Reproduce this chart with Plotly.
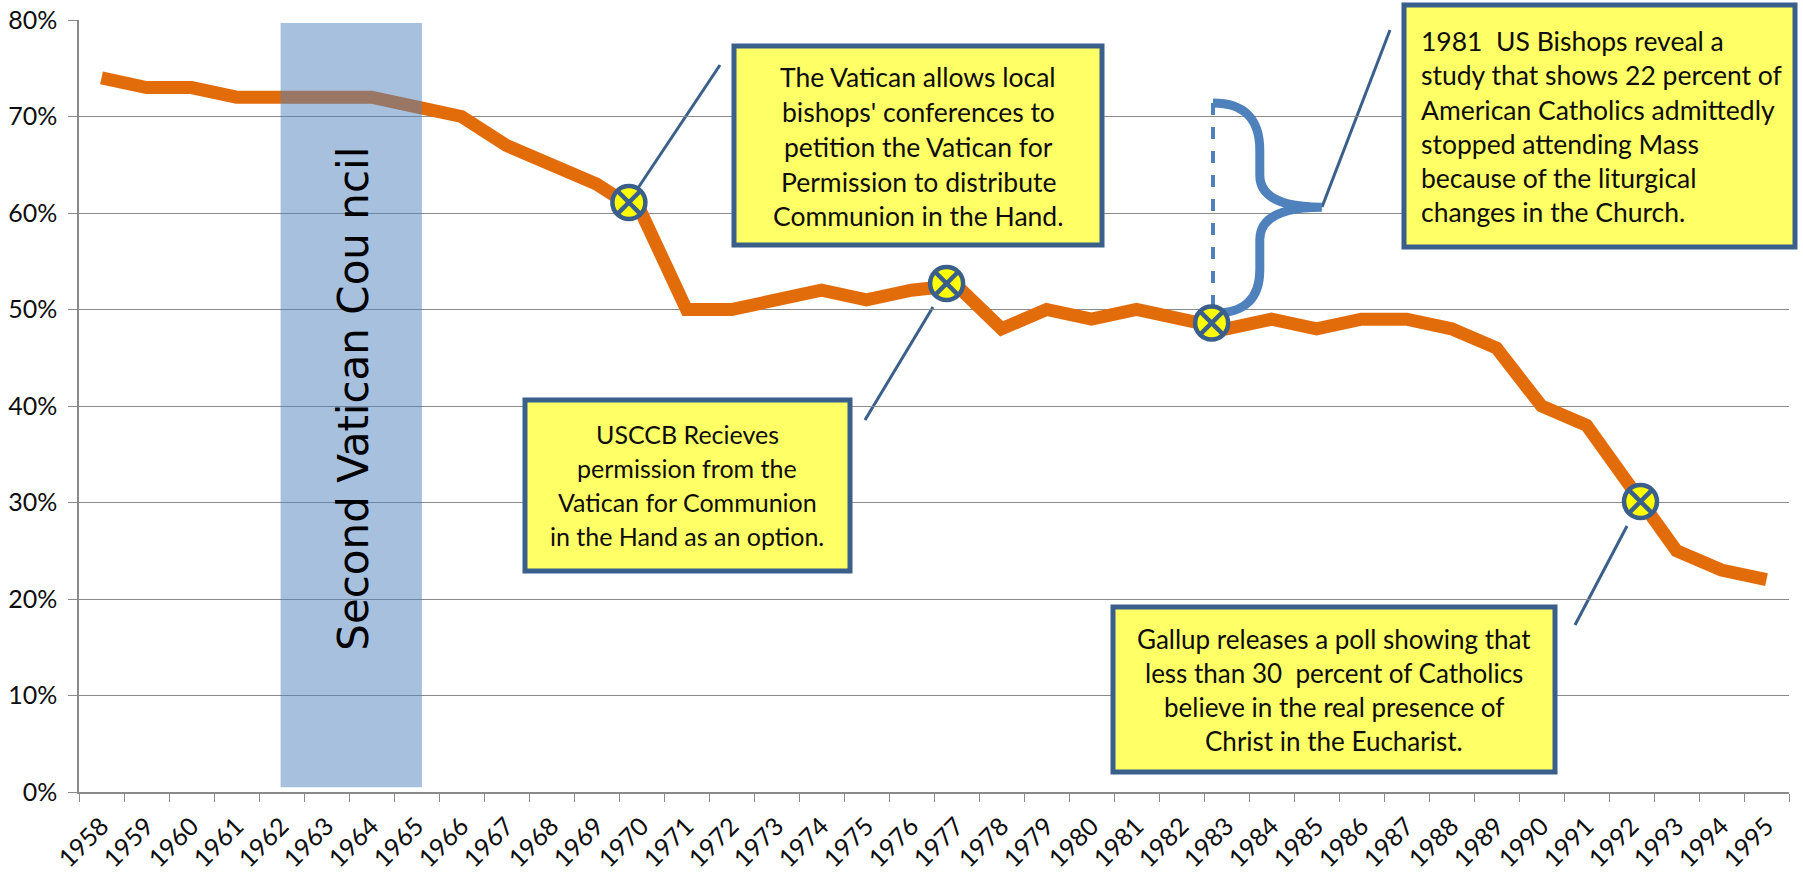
import plotly.graph_objects as go

# ---------------- data ----------------
years = list(range(1958, 1996))
tick_labels = [str(y) for y in years]
attendance = [74, 73, 73, 72, 72, 72, 72, 71, 70, 67, 65, 63, 60, 50, 50, 51, 52, 51, 52, 52.5,
              48, 50, 49, 50, 49, 48, 49, 48, 49, 49, 48, 46, 40, 38, 31.5, 25, 23, 22]
y_ticks = [0, 10, 20, 30, 40, 50, 60, 70, 80]
y_tick_labels = [f"{v}%" for v in y_ticks]

marker_years = [1969.72, 1976.78, 1982.67, 1992.2]
marker_values = [61.1, 52.7, 48.6, 30.1]

council_start, council_end = 1961.98, 1965.12
council_label = "Second Vatican Cou ncil"

box1_lines = ["The Vatican allows local", "bishops' conferences to", "petition the Vatican for",
              "Permission to distribute", "Communion in the Hand."]
box2_lines = ["USCCB Recieves", "permission from the", "Vatican for Communion",
              "in the Hand as an option."]
box3_lines = ["Gallup releases a poll showing that", "less than 30  percent of Catholics",
              "believe in the real presence of", "Christ in the Eucharist."]
box4_lines = ["1981  US Bishops reveal a", "study that shows 22 percent of",
              "American Catholics admittedly", "stopped attending Mass",
              "because of the liturgical", "changes in the Church."]

# ---------------- layout geometry ----------------
W, H = 1803, 874
L, R, T, B = 79, 14, 20, 82
PW = W - L - R
PH = H - T - B


def px(xp):
    return (xp - L) / PW


def py(yp):
    return (H - B - yp) / PH


ORANGE = "#E36C0A"
BOX_FILL = "#FFFF66"
BOX_LINE = "#3A5F8B"
BLUE = "#4F81BD"
GRID = "#8A8A8A"
TXT_FONT = "Lato, Open Sans, sans-serif"
TXT_COL = "#0d0d0d"

fig = go.Figure()
fig.add_trace(go.Scatter(x=years, y=attendance, mode="lines",
                         line=dict(color=ORANGE, width=13), hoverinfo="skip",
                         showlegend=False))
fig.add_trace(go.Scatter(x=marker_years, y=marker_values, mode="markers",
                         marker=dict(symbol="circle-x", size=33, color="#FFFF00",
                                     line=dict(color=BOX_LINE, width=4.5)),
                         hoverinfo="skip", showlegend=False))

shapes = []
annotations = []

# council band
shapes.append(dict(type="rect", xref="x", yref="y", x0=council_start, x1=council_end,
                   y0=0.5, y1=79.7, fillcolor="rgba(79,129,189,0.5)", line=dict(width=0),
                   layer="above"))
annotations.append(dict(x=1963.6, y=40.7, xref="x", yref="y", text=council_label,
                        textangle=-90, showarrow=False,
                        font=dict(family="DejaVu Sans", size=42, color="#000000")))

# brace and dashed line (data units)
bx0, bx1, bx2 = 1982.7, 1983.74, 1985.12
ytop, y1, y2, ymid, y3, y4, ybot = 71.4, 66.5, 63.9, 60.6, 57.2, 54.1, 49.6
brace = (f"M {bx0},{ytop} Q {bx1},{ytop} {bx1},{y1} L {bx1},{y2} "
         f"Q {bx1},{ymid} {bx2},{ymid} Q {bx1},{ymid} {bx1},{y3} L {bx1},{y4} "
         f"Q {bx1},{ybot} {bx0},{ybot}")
shapes.append(dict(type="path", xref="x", yref="y", path=brace,
                   line=dict(color=BLUE, width=9), layer="between"))
shapes.append(dict(type="line", xref="x", yref="y", x0=bx0, x1=bx0, y0=ytop, y1=50.2,
                   line=dict(color=BLUE, width=4, dash="dash"), layer="between"))

# leader lines (pixel positions)
leaders = [((638, 188), (720, 65)), ((933, 307), (865, 420)),
           ((1322, 207), (1390, 30)), ((1627, 526), (1575, 625))]
for (xa, ya), (xb, yb) in leaders:
    shapes.append(dict(type="line", xref="paper", yref="paper", x0=px(xa), y0=py(ya),
                       x1=px(xb), y1=py(yb), line=dict(color=BOX_LINE, width=3),
                       layer="between"))

# boxes: (x0, y0, x1, y1) in pixels
boxes = [(734, 46, 1102, 245), (525, 400, 850, 571), (1113, 607, 1555, 772),
         (1404, 5, 1795, 247)]
for (x0, y0, x1, y1) in boxes:
    shapes.append(dict(type="rect", xref="paper", yref="paper", x0=px(x0), x1=px(x1),
                       y0=py(y0), y1=py(y1), fillcolor=BOX_FILL,
                       line=dict(color=BOX_LINE, width=5), layer="above"))


def add_lines(lines, xc, ys, anchor="center", size=26):
    for t, yy in zip(lines, ys):
        annotations.append(dict(x=px(xc), y=py(yy), xref="paper", yref="paper", text=t,
                                showarrow=False, xanchor=anchor, yanchor="middle",
                                font=dict(family=TXT_FONT, size=size, color=TXT_COL)))


add_lines(box1_lines, 918, [77, 112, 147, 182, 216], size=26.5)
add_lines(box2_lines, 687, [434, 468, 502, 536], size=25)
add_lines(box3_lines, 1334, [639, 673, 707, 741], size=26)
add_lines(box4_lines, 1419, [41, 75, 110, 144, 178, 212], anchor="left", size=26.5)

fig.update_layout(
    width=W, height=H,
    margin=dict(l=L, r=R, t=T, b=B, autoexpand=False),
    paper_bgcolor="white", plot_bgcolor="white",
    shapes=shapes, annotations=annotations,
    xaxis=dict(range=[1957.5, 1995.5], tickmode="array", tickvals=years,
               ticktext=tick_labels, tickangle=-45, showgrid=False, zeroline=False,
               showline=True, linecolor=GRID, linewidth=1.5, ticks="",
               ticklabelstandoff=8, automargin=False,
               minor=dict(tickmode="array", tickvals=[y - 0.5 for y in years] + [1995.5],
                          ticks="outside", ticklen=8, tickcolor=GRID, tickwidth=1.3,
                          showgrid=False),
               tickfont=dict(family=TXT_FONT, size=25, color=TXT_COL)),
    yaxis=dict(range=[0, 80], tickmode="array", tickvals=y_ticks, ticktext=y_tick_labels,
               showgrid=True, gridcolor=GRID, gridwidth=1.3, zeroline=False,
               showline=True, linecolor=GRID, linewidth=1.5, ticks="outside",
               ticklen=9, tickcolor=GRID, tickwidth=1.3, ticklabelstandoff=6,
               automargin=False,
               tickfont=dict(family=TXT_FONT, size=25, color=TXT_COL)),
)

fig.write_html("out.html", config={"displayModeBar": False},
               post_script="document.body.style.margin='0';")
